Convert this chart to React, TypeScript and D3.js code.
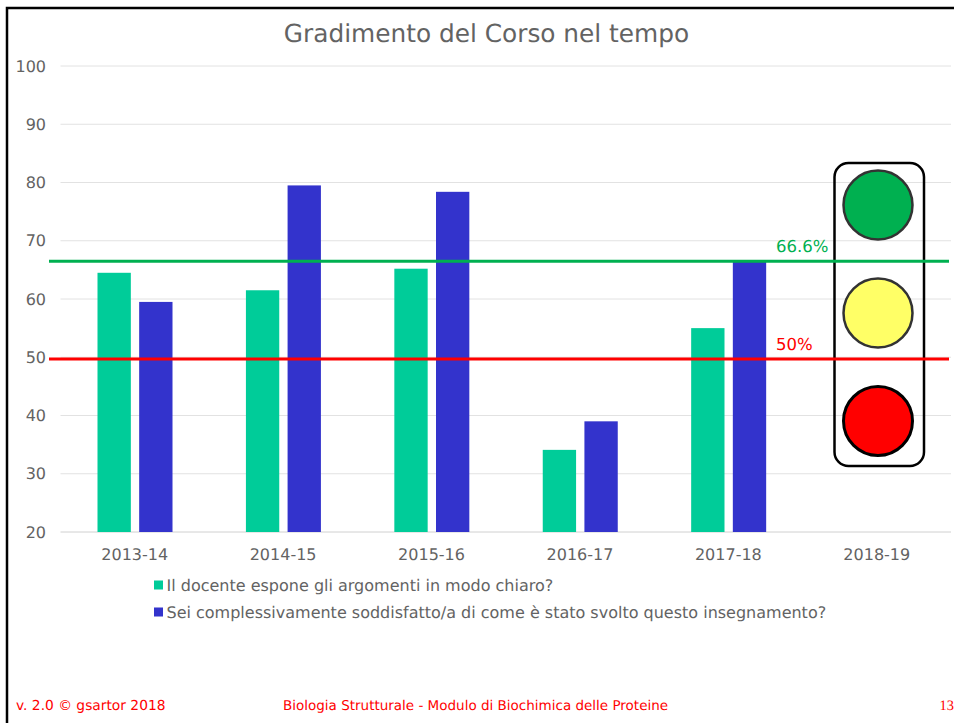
import { useEffect, useRef } from "react"
import * as d3 from "d3"

const years = ["2013-14", "2014-15", "2015-16", "2016-17", "2017-18", "2018-19"]
const chiaro = [64.5, 61.5, 65.2, 34.1, 55]
const soddisfatto = [59.5, 79.5, 78.4, 39, 66.6]
const yTicks = [20, 30, 40, 50, 60, 70, 80, 90, 100]
const seriesNames = [
  "Il docente espone gli argomenti in modo chiaro?",
  "Sei complessivamente soddisfatto/a di come è stato svolto questo insegnamento?",
]
const thresholds = [66.5, 49.7]
const thresholdLabels = ["66.6%", "50%"]
const lampColors = ["#00b050", "#ffff66", "#ff0000"]

const FONT = "'DejaVu Sans', Verdana, sans-serif"
const GREY = "#636363"
const GREEN = "#00cc99"
const BLUE = "#3333cc"

export default function App() {
  const svgRef = useRef<SVGSVGElement | null>(null)

  useEffect(() => {
    if (!svgRef.current) return
    const svg = d3.select(svgRef.current)
    svg.selectAll("*").remove()
    svg.style("font-family", FONT).style("text-rendering", "geometricPrecision")

    // Slide frame
    svg.append("path").attr("d", "M7,723V8H954").attr("fill", "none").attr("stroke", "#000").attr("stroke-width", 2.5)

    const x = d3.scaleBand().domain(years).range([60.5, 951])
    const y = d3.scaleLinear().domain([20, 100]).range([532, 66])
    const series = d3.scaleBand().domain(["a", "b"]).range([37, 112]).paddingInner(0.2)

    // Title
    svg
      .append("text")
      .attr("x", 486.5)
      .attr("y", 42)
      .attr("text-anchor", "middle")
      .attr("font-size", 24.8)
      .attr("fill", GREY)
      .text("Gradimento del Corso nel tempo")

    // Grid and y labels
    svg
      .selectAll(".grid")
      .data(yTicks)
      .enter()
      .append("line")
      .attr("x1", 60.5)
      .attr("x2", 951)
      .attr("y1", (d) => y(d))
      .attr("y2", (d) => y(d))
      .attr("stroke", (d) => (d === 20 ? "#d0d0d0" : "#e2e2e2"))
      .attr("stroke-width", 1)

    svg
      .selectAll(".ylab")
      .data(yTicks)
      .enter()
      .append("text")
      .attr("x", 46)
      .attr("y", (d) => y(d) + 5.5)
      .attr("text-anchor", "end")
      .attr("font-size", 16)
      .attr("fill", GREY)
      .text((d) => d)

    // x labels
    svg
      .selectAll(".xlab")
      .data(years)
      .enter()
      .append("text")
      .attr("x", (d) => x(d)! + x.bandwidth() / 2)
      .attr("y", 560)
      .attr("text-anchor", "middle")
      .attr("font-size", 16)
      .attr("fill", GREY)
      .text((d) => d)

    // Bars
    svg
      .selectAll(".bar-a")
      .data(chiaro)
      .enter()
      .append("rect")
      .attr("x", (d, i) => x(years[i])! + series("a")!)
      .attr("y", (d) => y(d))
      .attr("width", series.bandwidth())
      .attr("height", (d) => y(20) - y(d))
      .attr("fill", GREEN)

    svg
      .selectAll(".bar-b")
      .data(soddisfatto)
      .enter()
      .append("rect")
      .attr("x", (d, i) => x(years[i])! + series("b")!)
      .attr("y", (d) => y(d))
      .attr("width", series.bandwidth())
      .attr("height", (d) => y(20) - y(d))
      .attr("fill", BLUE)

    // Legend
    const legend = svg
      .selectAll(".legend")
      .data(seriesNames)
      .enter()
      .append("g")
      .attr("transform", (d, i) => `translate(154,${585 + i * 27})`)

    legend
      .append("rect")
      .attr("y", -4.5)
      .attr("width", 9)
      .attr("height", 9)
      .attr("fill", (d, i) => (i === 0 ? GREEN : BLUE))

    legend
      .append("text")
      .attr("x", 12.5)
      .attr("y", 5.5)
      .attr("font-size", 16)
      .attr("fill", GREY)
      .text((d) => d)

    // Traffic light
    svg
      .append("rect")
      .attr("x", 834.5)
      .attr("y", 163)
      .attr("width", 89.5)
      .attr("height", 303)
      .attr("rx", 14)
      .attr("fill", "none")
      .attr("stroke", "#000")
      .attr("stroke-width", 2.5)

    svg
      .selectAll(".lamp")
      .data(lampColors)
      .enter()
      .append("circle")
      .attr("cx", 878)
      .attr("cy", (d, i) => 205 + i * 108)
      .attr("r", 34.5)
      .attr("fill", (d) => d)
      .attr("stroke", (d, i) => (i === 2 ? "#000" : "#333"))
      .attr("stroke-width", (d, i) => (i === 2 ? 3 : 2.5))

    // Threshold lines
    svg
      .selectAll(".threshold")
      .data(thresholds)
      .enter()
      .append("line")
      .attr("x1", 49)
      .attr("x2", 949)
      .attr("y1", (d) => y(d))
      .attr("y2", (d) => y(d))
      .attr("stroke", (d, i) => (i === 0 ? "#00b050" : "#ff0000"))
      .attr("stroke-width", 3)

    svg
      .selectAll(".threshold-label")
      .data(thresholds)
      .enter()
      .append("text")
      .attr("x", 776)
      .attr("y", (d) => y(d) - 9)
      .attr("font-size", 16.5)
      .attr("fill", (d, i) => (i === 0 ? "#00b050" : "#ff0000"))
      .text((d, i) => thresholdLabels[i])

    // Footer
    const footer = svg.append("g").attr("fill", "#ff0000").attr("font-size", 13.5)
    footer.append("text").attr("x", 16).attr("y", 710).attr("font-size", 13.8).text("v. 2.0 © gsartor 2018")
    footer.append("text").attr("x", 283).attr("y", 710).text("Biologia Strutturale - Modulo di Biochimica delle Proteine")
    footer.append("text").attr("x", 939.5).attr("y", 710).attr("font-family", "'Liberation Serif', serif").attr("font-size", 14.4).text("13")
  }, [])

  return <svg ref={svgRef} width={954} height={723} style={{ position: "absolute", left: 0, top: 0 }}></svg>
}
